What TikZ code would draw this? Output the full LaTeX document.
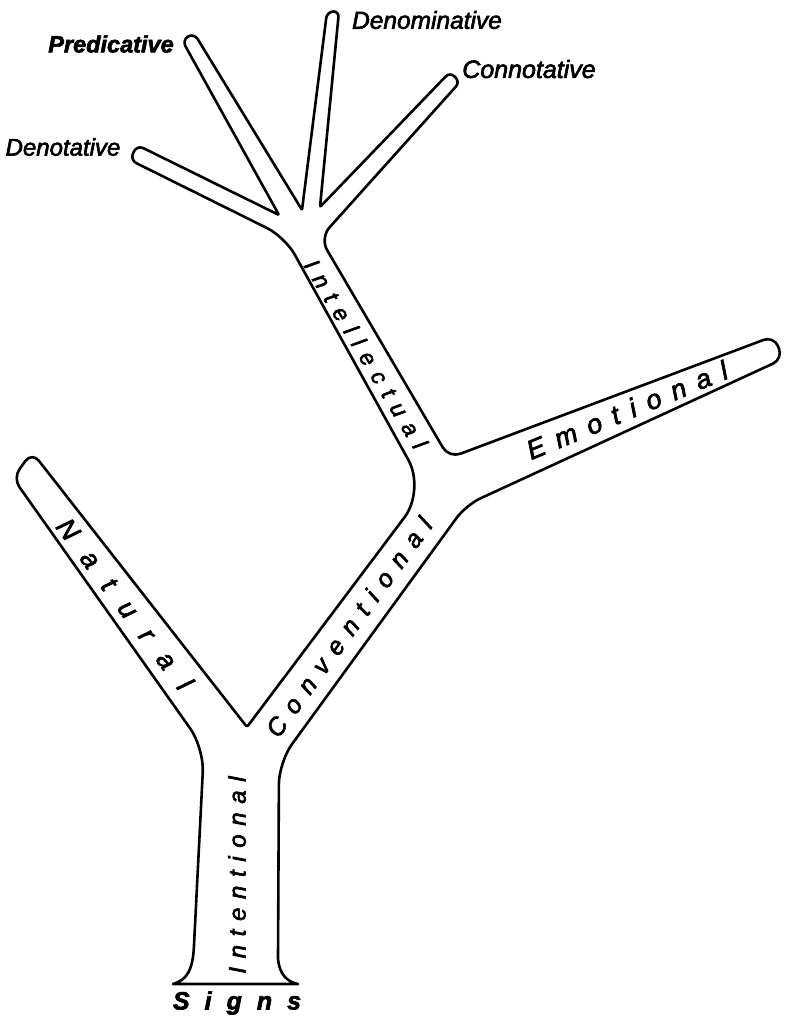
\documentclass[tikz,border=0pt]{standalone}
\usepackage{fontspec}
\usepackage{tikz}
\newfontfamily\treefont{Liberation Sans}[FakeBold=2.5]

\begin{document}
\begin{tikzpicture}[x=1pt, y=-1pt,
    outline/.style={line width=2.6pt, line join=round, line cap=round},
    branch/.style n args={3}{font={\treefont\itshape\fontsize{#1}{#1}\selectfont
      \addfontfeature{LetterSpace=#2}}, rotate=#3, inner sep=0pt},
    leaf/.style={font={\treefont\itshape\fontsize{#1}{#1}\selectfont}, inner sep=0pt},
    boldleaf/.style={font={\treefont\bfseries\itshape\fontsize{#1}{#1}\selectfont}, inner sep=0pt}]
    \useasboundingbox (0,0) rectangle (787,1022);
    \fill[white] (0,0) rectangle (787,1022);
    % contorno del arbol
    \draw[outline]
      (173,984) .. controls (187,980) and (193,970) .. (194,945)
      [rounded corners=24] -- (204,748)
      [rounded corners=11] -- (13,478) -- (32,452)
      [rounded corners=2] -- (247,727)
      [rounded corners=34] -- (425,490)
      [rounded corners=20] -- (285,237)
      [rounded corners=7] -- (130,160) -- (137,145)
      [rounded corners=1] -- (279,215)
      [rounded corners=7] -- (182,40) -- (194,33)
      [rounded corners=1] -- (302,210)
      [rounded corners=6] -- (327,12) -- (339,11)
      [rounded corners=1] -- (320,207)
      [rounded corners=6] -- (450,72) -- (460,82)
      [rounded corners=14] -- (320,238)
      [rounded corners=12] -- (449,458)
      [rounded corners=11] -- (774,336) -- (783,359)
      [rounded corners=16] -- (466,505)
      [rounded corners=22] -- (279,762)
      [sharp corners] -- (278,958) .. controls (279,975) and (288,982) .. (298,984)
      -- cycle;
    % ramas
    \node[branch={27}{74}{-53}] (natural) at (125,604) {Natural};
    \node[branch={25}{43}{54}] (conventional) at (349,627) {Conventional};
    \node[branch={23}{42}{-59}] (intellectual) at (366,354) {Intellectual};
    \node[branch={27}{44}{22.5}] (emotional) at (627,410) {Emotional};
    \node[branch={24}{36}{90}] (intentional) at (237,875) {Intentional};
    \node[boldleaf=25] (signs) at (237,1003) {S\hspace{0.6em}i\hspace{0.6em}g\hspace{0.6em}n\hspace{0.6em}s};
    % hojas
    \node[boldleaf=23.5] (predicative) at (111,44) {Predicative};
    \node[leaf=24] (denotative) at (63,147) {Denotative};
    \node[leaf=24.5] (denominative) at (427,20) {Denominative};
    \node[leaf=25] (connotative) at (529,69) {Connotative};
\end{tikzpicture}
\end{document}
